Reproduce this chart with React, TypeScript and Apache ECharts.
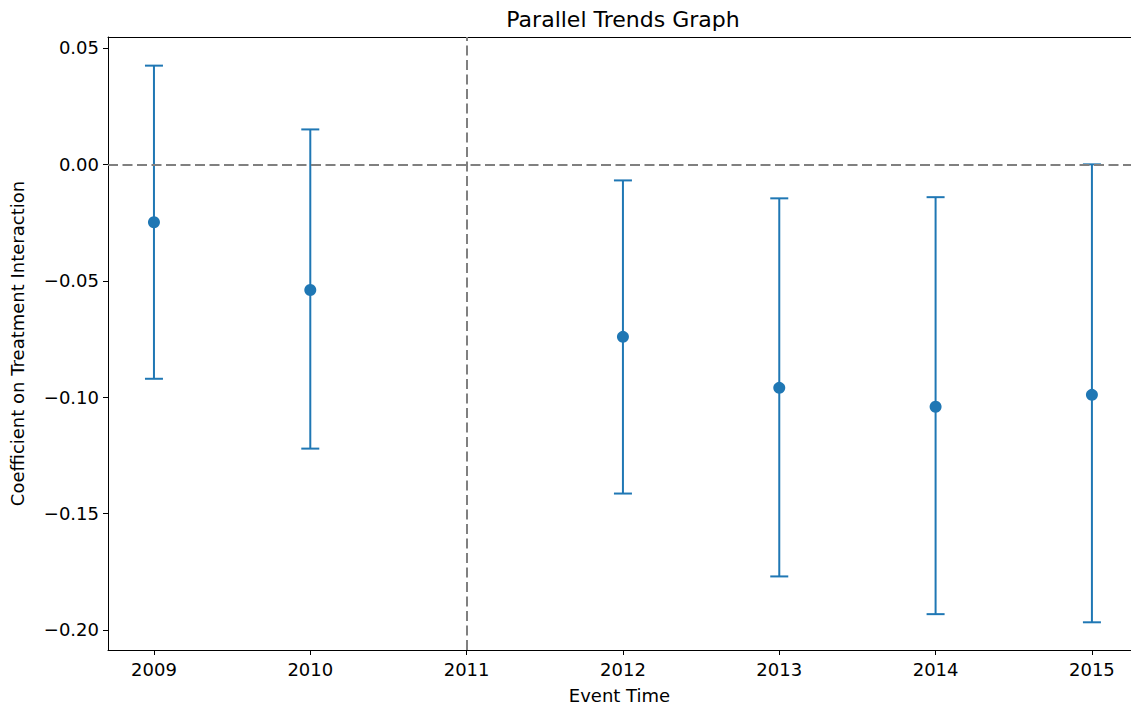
import React, { useEffect, useRef } from "react";
import * as echarts from "echarts";

const years = [2009, 2010, 2012, 2013, 2014, 2015];
const coefs = [-0.0249, -0.054, -0.0741, -0.096, -0.1041, -0.099];
const upper = [0.0424, 0.015, -0.0069, -0.0146, -0.0141, 0.0];
const lower = [-0.0921, -0.1221, -0.1414, -0.177, -0.1932, -0.1967];
const xTicks = [2009, 2010, 2011, 2012, 2013, 2014, 2015];
const yTicks = [-0.2, -0.15, -0.1, -0.05, 0.0, 0.05];

const BLUE = "#1f77b4";
const FONT = "DejaVu Sans";

export default function App() {
  const ref = useRef<HTMLDivElement>(null);
  useEffect(() => {
    if (!ref.current) return;
    const chart = echarts.init(ref.current, undefined, { renderer: "svg" });
    const fmt = (v: number) => {
      const s = Math.abs(v).toFixed(2);
      return v < -1e-9 ? "\u2212" + s : s;
    };
    chart.setOption({
      animation: false,
      backgroundColor: "#fff",
      title: {
        text: "Parallel Trends Graph",
        left: 618,
        top: 3,
        textAlign: "center",
        textStyle: { fontFamily: FONT, fontSize: 22, fontWeight: "normal", color: "#000" },
      },
      grid: {
        left: 108,
        right: 0,
        top: 37,
        bottom: 61,
        show: false,
      },
      xAxis: [
        {
          type: "value",
          min: 2008.706,
          max: 2015.25,
          name: "Event Time",
          nameLocation: "middle",
          nameGap: 36,
          nameTextStyle: { fontFamily: FONT, fontSize: 18, color: "#000" },
          axisLine: { show: true, onZero: false, lineStyle: { color: "#000", width: 1 } },
          axisTick: { show: true, length: 5, lineStyle: { color: "#000" }, customValues: xTicks },
          axisLabel: {
            customValues: xTicks,
            formatter: (v: number) => String(Math.round(v)),
            fontFamily: FONT,
            fontSize: 18,
            color: "#000",
            margin: 10,
          },
          splitLine: { show: false },
        },
        {
          type: "value",
          position: "top",
          min: 2008.706,
          max: 2015.25,
          axisLine: { show: true, onZero: false, lineStyle: { color: "#000", width: 1 } },
          axisTick: { show: false },
          axisLabel: { show: false },
          splitLine: { show: false },
        },
      ],
      yAxis: {
        type: "value",
        min: -0.2086,
        max: 0.0547,
        name: "Coefficient on Treatment Interaction",
        nameLocation: "middle",
        nameGap: 82,
        nameRotate: 90,
        nameTextStyle: { fontFamily: FONT, fontSize: 18, color: "#000" },
        axisLine: { show: true, onZero: false, lineStyle: { color: "#000", width: 1 } },
        axisTick: { show: true, length: 5, lineStyle: { color: "#000" }, customValues: yTicks },
        axisLabel: {
          customValues: yTicks,
          formatter: fmt,
          fontFamily: FONT,
          fontSize: 18,
          color: "#000",
          margin: 9,
        },
        splitLine: { show: false },
      },
      series: [
        {
          type: "custom",
          data: years.map((y, i) => [y, lower[i], upper[i]]),
          renderItem: (params: any, api: any) => {
            const x = api.value(0);
            const lo = api.coord([x, api.value(1)]);
            const hi = api.coord([x, api.value(2)]);
            const half = 9;
            const style = { stroke: BLUE, lineWidth: 2, fill: "none" };
            return {
              type: "group",
              children: [
                { type: "line", shape: { x1: lo[0], y1: lo[1], x2: hi[0], y2: hi[1] }, style },
                { type: "line", shape: { x1: lo[0] - half, y1: lo[1], x2: lo[0] + half, y2: lo[1] }, style },
                { type: "line", shape: { x1: hi[0] - half, y1: hi[1], x2: hi[0] + half, y2: hi[1] }, style },
              ],
            };
          },
          z: 2,
        },
        {
          type: "scatter",
          data: years.map((y, i) => [y, coefs[i]]),
          symbol: "circle",
          symbolSize: 12,
          itemStyle: { color: BLUE, opacity: 1 },
          z: 3,
        },
        {
          type: "line",
          data: [],
          markLine: {
            silent: true,
            symbol: "none",
            label: { show: false },
            lineStyle: { color: "#808080", type: [10, 4.5], width: 2 },
            data: [{ yAxis: 0 }, { xAxis: 2011 }],
          },
          z: 1,
        },
      ],
    });
    return () => chart.dispose();
  }, []);
  return (
    <div
      ref={ref}
      style={{ position: "fixed", left: 0, top: 0, width: 1131, height: 711, background: "#fff" }}
    />
  );
}
